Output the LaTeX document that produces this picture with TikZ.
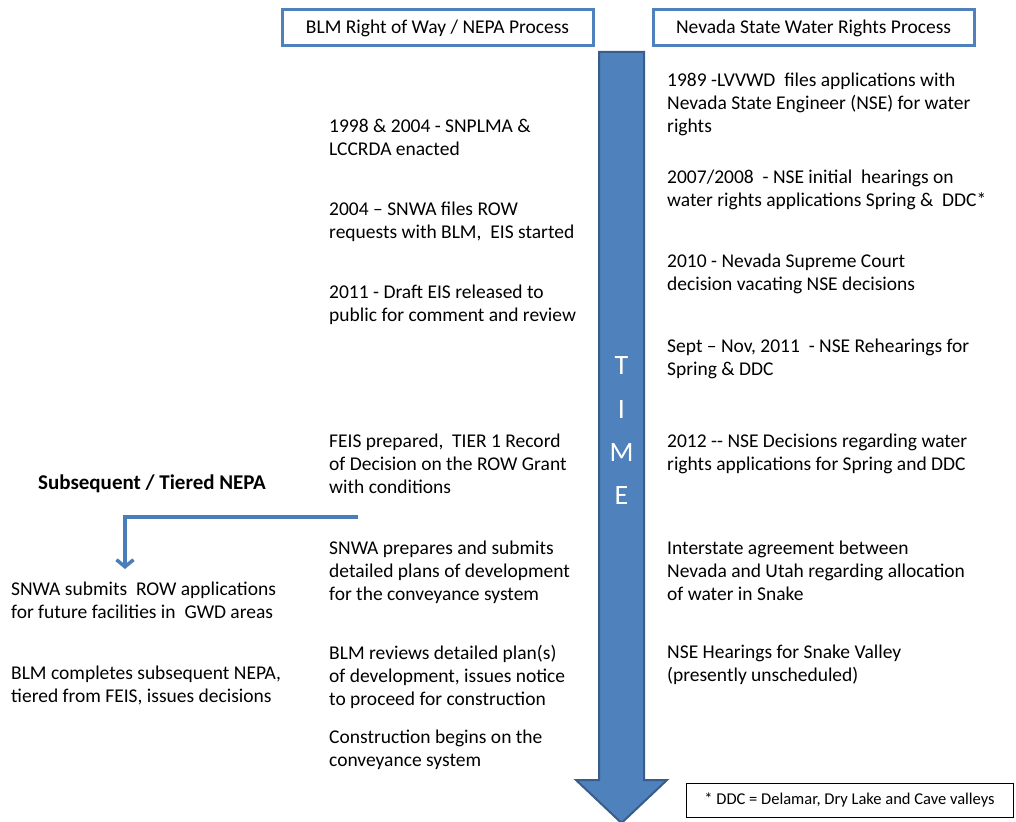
\documentclass[tikz,border=0pt]{standalone}
\usepackage{fontspec}
\setmainfont{Carlito}
\usetikzlibrary{positioning,arrows.meta}

\definecolor{timeblue}{RGB}{79,129,189}
\definecolor{timeedge}{RGB}{56,93,138}
\definecolor{tierblue}{RGB}{74,126,187}

\tikzset{
  header/.style={draw=timeblue, line width=3pt, minimum width=311pt, minimum height=36pt, inner sep=0pt, font=\fontsize{19.5}{22}\selectfont},
  entry/.style={anchor=north west, align=left, inner sep=0pt, font=\fontsize{19.5}{23}\selectfont},
  timeletter/.style={text=white, inner sep=0pt, font=\fontsize{28}{28}\selectfont},
}

\begin{document}
\begin{tikzpicture}[x=1pt, y=-1pt]
    \useasboundingbox (0,0) rectangle (1016,821);

    \node [header] (blmhead) at (437.5,28) {BLM Right of Way / NEPA Process};
    \node [header, right=57pt of blmhead, minimum width=321pt] (nvhead) {Nevada State Water Rights Process};

    % time arrow
    \filldraw [fill=timeblue, draw=timeedge, line width=2pt, line join=miter]
        (599,52) -- (644,52) -- (644,780) -- (667,780) -- (621.5,823) -- (576,780) -- (599,780) -- cycle;
    \foreach \ch/\yy in {T/366, I/410, M/453, E/496}
        \node [timeletter] (time\ch) at (621.5,\yy) {\ch};

    % BLM side
    \node [entry] (snplma) at (329,119) {1998 \& 2004 - SNPLMA \&\\LCCRDA enacted};
    \node [entry] (rowfile) at (329,202) {2004 -- SNWA files ROW\\requests with BLM,\ \ EIS started};
    \node [entry] (drafteis) at (329,285) {2011 - Draft EIS released to\\public for comment and review};
    \node [entry] (feis) at (329,434) {FEIS prepared,\ \ TIER 1 Record\\of Decision on the ROW Grant\\with conditions};
    \node [entry] (plans) at (329,541) {SNWA prepares and submits\\detailed plans of development\\for the conveyance system};
    \node [entry] (review) at (329,645) {BLM reviews detailed plan(s)\\of development, issues notice\\to proceed for construction};
    \node [entry] (build) at (329,730) {Construction begins on the\\conveyance system};

    % water rights side
    \node [entry] (nse89) at (667,73) {1989 -LVVWD\ \ files applications with\\Nevada State Engineer (NSE) for water\\rights};
    \node [entry] (hear08) at (667,170) {2007/2008\ \ - NSE initial\ \ hearings on\\water rights applications Spring \&\ \ DDC*};
    \node [entry] (court10) at (667,254) {2010 - Nevada Supreme Court\\decision vacating NSE decisions};
    \node [entry] (rehear11) at (667,339) {Sept -- Nov, 2011\ \ - NSE Rehearings for\\Spring \& DDC};
    \node [entry] (dec12) at (667,434) {2012 -{}- NSE Decisions regarding water\\rights applications for Spring and DDC};
    \node [entry] (compact) at (667,541) {Interstate agreement between\\Nevada and Utah regarding allocation\\of water in Snake};
    \node [entry] (snake) at (667,645) {NSE Hearings for Snake Valley\\(presently unscheduled)};

    % tiered NEPA
    \node [inner sep=0pt, font=\fontsize{21}{24}\selectfont\bfseries] (tiertitle) at (152,484) {Subsequent / Tiered NEPA};
    \coordinate (tierstart) at (358,517);
    \coordinate (tierend) at (125,569);
    \draw [tierblue, line width=3.5pt, -{Straight Barb[length=7pt, width=17pt]}] (tierstart) -| (tierend);
    \node [entry] (gwdrow) at (11,582) {SNWA submits\ \ ROW applications\\for future facilities in\ \ GWD areas};
    \node [entry] (tiernepa) at (11,666) {BLM completes subsequent NEPA,\\tiered from FEIS, issues decisions};

    \node [draw, line width=0.8pt, minimum width=327pt, minimum height=34pt, inner sep=0pt, font=\fontsize{16.5}{19}\selectfont] (ddcnote) at (849.5,800) {* DDC = Delamar, Dry Lake and Cave valleys};
\end{tikzpicture}
\end{document}
